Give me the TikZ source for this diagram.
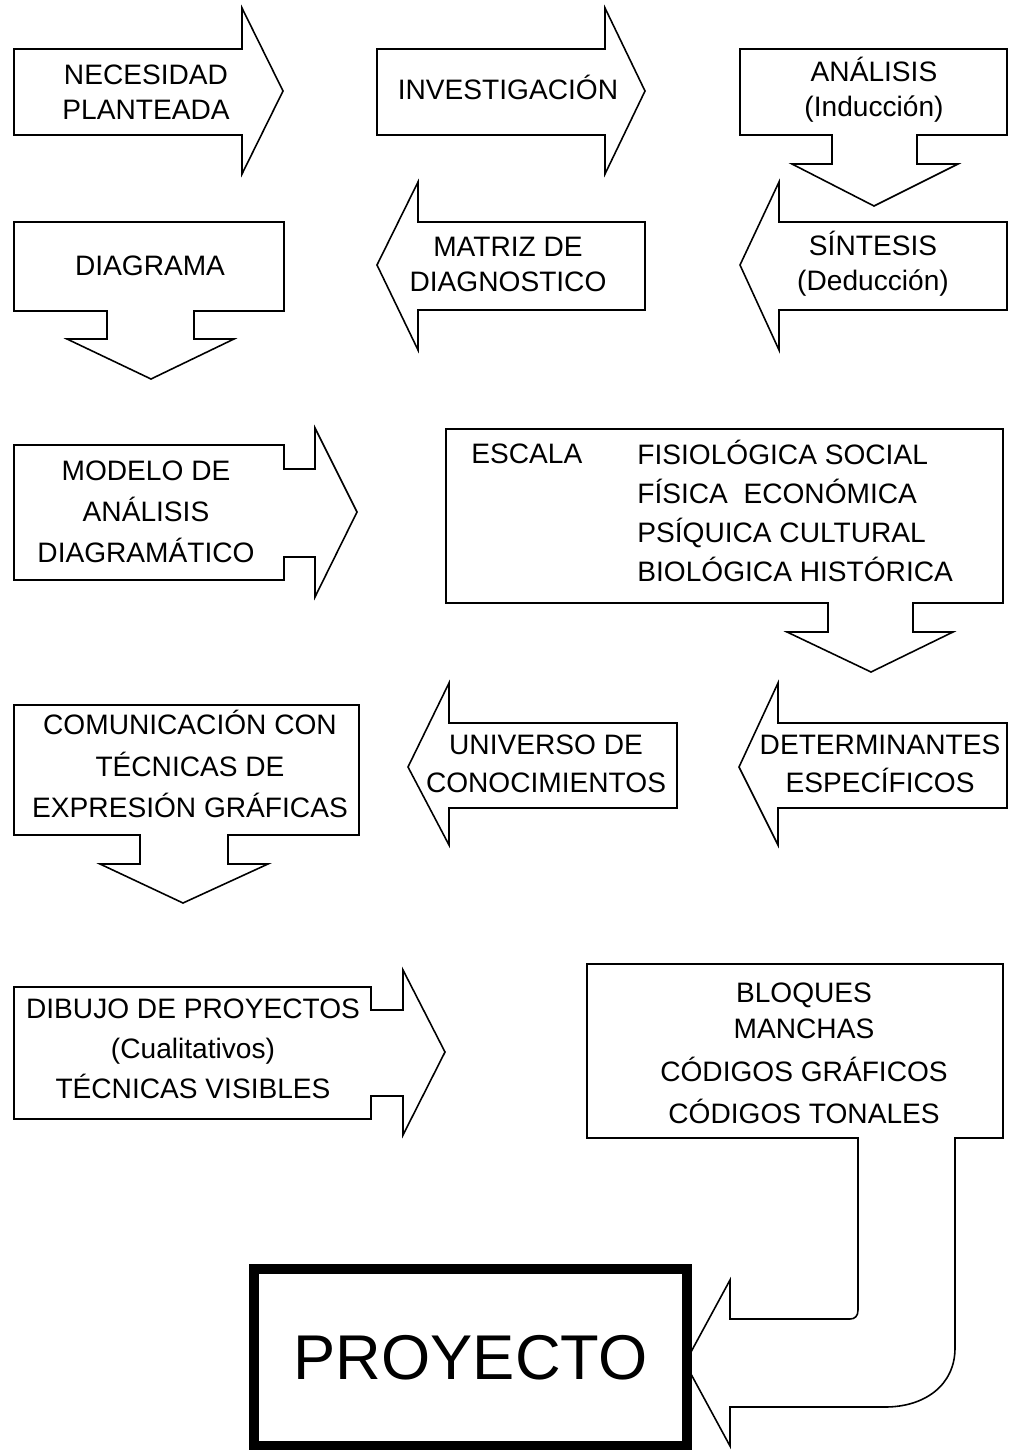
\documentclass[tikz,border=0pt]{standalone}
\usepackage{fontspec}
\setmainfont{Liberation Sans}
\usepackage{tikz}
\tikzset{
  blockarrow/.style={draw, line width=0.9pt, line join=miter},
  boxtext/.style={align=center, inner sep=0pt, font=\fontsize{16}{19.8}\selectfont}
}

\begin{document}
\begin{tikzpicture}[x=0.02cm, y=-0.02cm]
    \useasboundingbox (0,0) rectangle (1011,1450);

    \draw[blockarrow] (14,49) -- (242,49) -- (242,8) -- (283,91) -- (242,174) -- (242,135) -- (14,135) -- cycle;
    \draw[blockarrow] (377,49) -- (605,49) -- (605,8) -- (645,91) -- (605,174) -- (605,135) -- (377,135) -- cycle;
    \draw[blockarrow] (740,49) -- (1007,49) -- (1007,135) -- (917,135) -- (917,164) -- (958,164) -- (874,206)
        -- (792,164) -- (832,164) -- (832,135) -- (740,135) -- cycle;
    \draw[blockarrow] (1007,222) -- (1007,310) -- (779,310) -- (779,350) -- (740,265) -- (779,182) -- (779,222) -- cycle;
    \draw[blockarrow] (645,222) -- (645,310) -- (418,310) -- (418,350) -- (377,265) -- (418,182) -- (418,222) -- cycle;
    \draw[blockarrow] (14,222) -- (284,222) -- (284,311) -- (194,311) -- (194,339) -- (234,339) -- (151,379)
        -- (67,339) -- (107,339) -- (107,311) -- (14,311) -- cycle;
    \draw[blockarrow] (14,445) -- (284,445) -- (284,469) -- (315,469) -- (315,428) -- (357,512) -- (315,597)
        -- (315,557) -- (284,557) -- (284,580) -- (14,580) -- cycle;
    \draw[blockarrow] (446,429) -- (1003,429) -- (1003,603) -- (913,603) -- (913,632) -- (953,632) -- (871,672)
        -- (787,632) -- (828,632) -- (828,603) -- (446,603) -- cycle;
    \draw[blockarrow] (1007,723) -- (1007,808) -- (778,808) -- (778,845) -- (739,767) -- (778,683) -- (778,723) -- cycle;
    \draw[blockarrow] (677,723) -- (677,808) -- (449,808) -- (449,845) -- (408,767) -- (449,683) -- (449,723) -- cycle;
    \draw[blockarrow] (14,705) -- (359,705) -- (359,835) -- (228,835) -- (228,864) -- (268,864) -- (183,903)
        -- (100,864) -- (140,864) -- (140,835) -- (14,835) -- cycle;
    \draw[blockarrow] (14,987) -- (371,987) -- (371,1010) -- (403,1010) -- (403,970) -- (445,1052) -- (403,1135)
        -- (403,1096) -- (371,1096) -- (371,1119) -- (14,1119) -- cycle;
    \draw[blockarrow] (587,964) -- (1003,964) -- (1003,1138) -- (955,1138) -- (955,1348)
        .. controls (955,1385) and (925,1407) .. (885,1407) -- (730,1407) -- (730,1446) -- (685,1363)
        -- (730,1280) -- (730,1319) -- (850,1319) .. controls (855,1319) and (858,1316) .. (858,1310)
        -- (858,1138) -- (587,1138) -- cycle;

    \node[boxtext] (necesidad) at (146,92) {NECESIDAD\\PLANTEADA};
    \node[boxtext] (investigacion) at (508,87) {INVESTIGACIÓN};
    \node[boxtext] (analisis) at (874,89.5) {ANÁLISIS\\(Inducción)};
    \node[boxtext] (sintesis) at (873,263.5) {SÍNTESIS\\(Deducción)};
    \node[boxtext] (matriz) at (508,264.5) {MATRIZ DE\\DIAGNOSTICO};
    \node[boxtext] (diagrama) at (150,266) {DIAGRAMA};
    \node[boxtext, font=\fontsize{16}{23.5}\selectfont] (modelo) at (146,512) {MODELO DE\\ANÁLISIS\\DIAGRAMÁTICO};
    \node[boxtext, anchor=west] (escala) at (471,454) {ESCALA};
    \node[boxtext, anchor=west, align=left, font=\fontsize{16}{22.3}\selectfont] (escalatipos) at (637,511)
        {FISIOLÓGICA SOCIAL\\FÍSICA~~ECONÓMICA\\PSÍQUICA CULTURAL\\BIOLÓGICA HISTÓRICA};
    \node[boxtext, font=\fontsize{16}{21.5}\selectfont] (determinantes) at (880,764) {DETERMINANTES\\ESPECÍFICOS};
    \node[boxtext, font=\fontsize{16}{21.5}\selectfont] (universo) at (546,764) {UNIVERSO DE\\CONOCIMIENTOS};
    \node[boxtext, font=\fontsize{16}{23.8}\selectfont] (comunicacion) at (190,764)
        {COMUNICACIÓN CON\\TÉCNICAS DE\\EXPRESIÓN GRÁFICAS};
    \node[boxtext, font=\fontsize{16}{22.7}\selectfont] (dibujo) at (193,1049)
        {DIBUJO DE PROYECTOS\\(Cualitativos)\\TÉCNICAS VISIBLES};
    \node[boxtext, font=\fontsize{16}{20.4}\selectfont] (bloques) at (804,1053.5)
        {BLOQUES\\MANCHAS\\[4pt]CÓDIGOS GRÁFICOS\\[4pt]CÓDIGOS TONALES};
    \node[draw, line width=5.67pt, minimum width=8.66cm, minimum height=3.54cm, inner sep=0pt,
        font=\fontsize{36}{40}\selectfont] (proyecto) at (470.5,1357.5) {PROYECTO};
\end{tikzpicture}
\end{document}
